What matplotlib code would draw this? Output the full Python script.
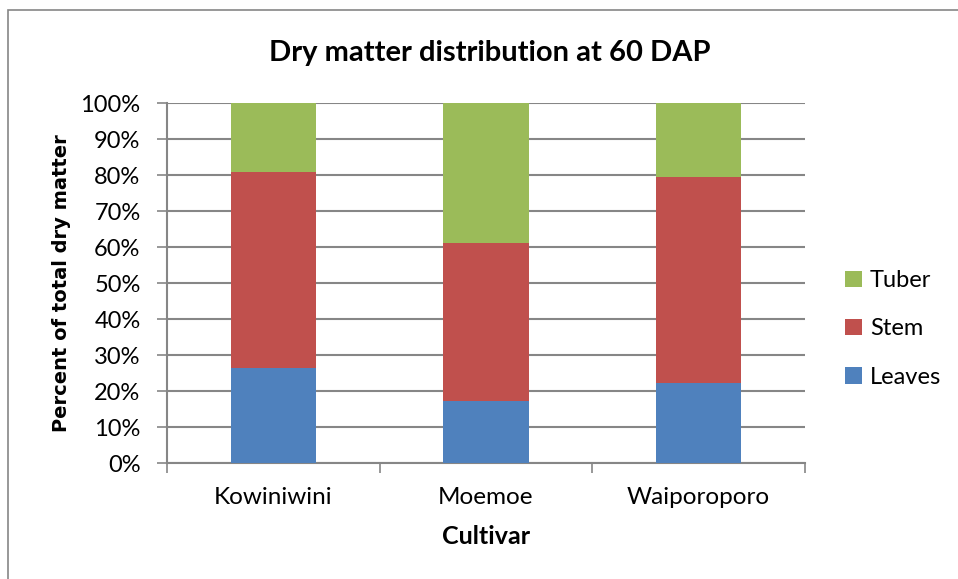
import matplotlib
matplotlib.use("Agg")
import matplotlib.pyplot as plt
from matplotlib.patches import Rectangle
import numpy as np

cultivars = ["Kowiniwini", "Moemoe", "Waiporoporo"]
leaves = [26.3, 17.2, 22.1]
stem = [54.5, 43.8, 57.4]
tuber = [19.2, 39.0, 20.5]

plt.rcParams['font.family'] = ['Lato', 'DejaVu Sans']

fig = plt.figure(figsize=(9.58, 5.79), dpi=100)
ax = fig.add_axes([167/958, 1 - 463/579, (805 - 167)/958, (463 - 103)/579])

# outer chart border
fig.patches.append(Rectangle((8/958, -0.05), 1.1, 1 - 10/579 + 0.05, transform=fig.transFigure,
                             fill=False, edgecolor='#868686', linewidth=1.2))

x = np.arange(len(cultivars))
w = 0.4
b1 = ax.bar(x, leaves, w, color='#4F81BD', label='Leaves', zorder=3)
b2 = ax.bar(x, stem, w, bottom=leaves, color='#C0504D', label='Stem', zorder=3)
bottom2 = np.array(leaves) + np.array(stem)
b3 = ax.bar(x, tuber, w, bottom=bottom2, color='#9BBB59', label='Tuber', zorder=3)

ax.set_xlim(-0.5, 2.5)
ax.set_ylim(0, 100)
ax.set_yticks(np.arange(0, 101, 10))
ax.set_yticklabels([f"{v}%" for v in range(0, 101, 10)], fontsize=17)
ax.yaxis.grid(True, color='#868686', linewidth=1.5, zorder=0)

ax.set_xticks([-0.5, 0.5, 1.5, 2.5])
ax.set_xticklabels([])
ax.set_xticks(x, minor=True)
ax.set_xticklabels(cultivars, minor=True, fontsize=17.5)
ax.tick_params(axis='x', which='minor', length=0, pad=17)
ax.tick_params(axis='x', which='major', length=7, width=1.2, color='#868686')
ax.tick_params(axis='y', length=7, width=1.2, color='#868686', pad=12)

for s in ['top', 'right']:
    ax.spines[s].set_visible(False)
for s in ['left', 'bottom']:
    ax.spines[s].set_color('#868686')
    ax.spines[s].set_linewidth(1.5)

fig.text(490/958, 1 - 53/579, "Dry matter distribution at 60 DAP", ha='center', va='center',
         fontsize=21, fontweight='bold')
fig.text(486/958, 1 - 536/579, "Cultivar", ha='center', va='center', fontsize=18, fontweight='bold')
fig.text(62/958, 1 - 283/579, "Percent of total dry matter", ha='center', va='center',
         rotation=90, fontsize=14, fontweight='bold', family=['DejaVu Sans'])

handles = [b3, b2, b1]
ax.legend(handles, ['Tuber', 'Stem', 'Leaves'], loc='center left',
          bbox_to_anchor=(845/958, 1 - 329/579), bbox_transform=fig.transFigure,
          frameon=False, fontsize=17, handlelength=0.7, handleheight=0.7,
          labelspacing=1.15, handletextpad=0.35, borderpad=0, borderaxespad=0)

fig.savefig("out.png", dpi=100)
